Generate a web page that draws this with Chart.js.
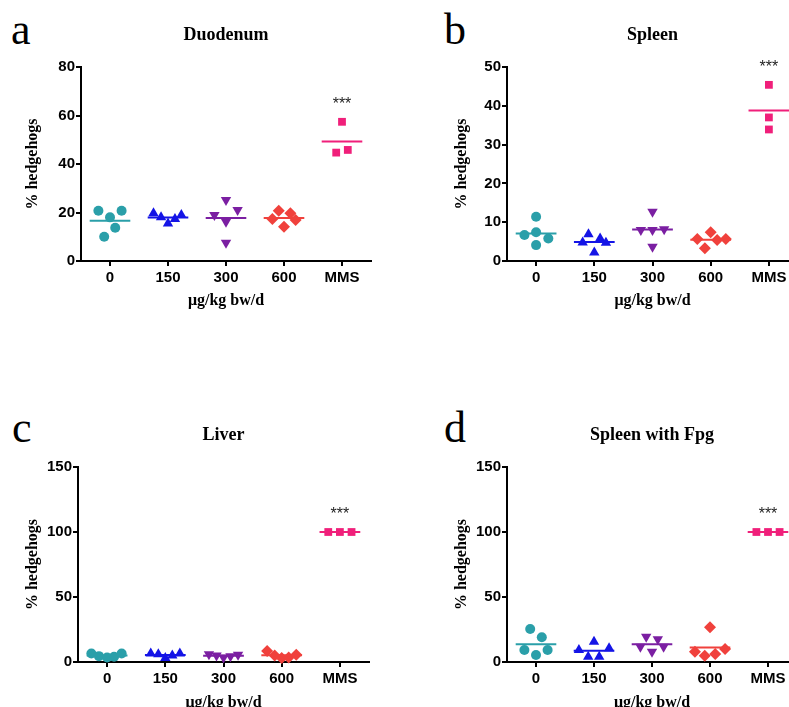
<!DOCTYPE html>
<html>
<head>
<meta charset="utf-8">
<title>Hedgehogs</title>
<script src="https://cdn.jsdelivr.net/npm/chart.js"></script>
<style>
  html, body { margin: 0; padding: 0; background: #fff; }
  body { position: relative; width: 789px; height: 707px; overflow: hidden; }
  canvas { position: absolute; }
  .letter { position: absolute; font-family: "Liberation Serif", serif; font-size: 44px; line-height: 44px; color: #000; }
</style>
</head>
<body>
<div class="letter" style="left:11px; top:8px;">a</div>
<div class="letter" style="left:444px; top:8px;">b</div>
<div class="letter" style="left:12px; top:406px;">c</div>
<div class="letter" style="left:444px; top:406px;">d</div>

<canvas id="duodenum" width="395" height="320" style="left:0; top:0;"></canvas>
<canvas id="spleen" width="420" height="320" style="left:400px; top:0;"></canvas>
<canvas id="liver" width="395" height="320" style="left:0; top:400px;"></canvas>
<canvas id="fpg" width="420" height="320" style="left:400px; top:400px;"></canvas>

<script>
  const categories = ['0', '150', '300', '600', 'MMS'];
  const colors = ['#2a9fa9', '#1414e6', '#7b1fa2', '#f0413c', '#f01f7a'];
  const pointStyles = ['circle', 'triangle', 'triangle', 'rectRot', 'rect'];
  const pointRotations = [0, 0, 180, 0, 0];
  const pointRadii = [5, 6, 6, 6, 5.5];

  // % hedgehogs per animal, one list per dose group; offsets = horizontal spread of the dots
  const duodenumValues = [[20.7, 10.0, 18.0, 13.7, 20.7], [19.7, 18.0, 15.5, 17.3, 19.0], [19.0, 25.2, 16.2, 21.0, 7.5], [17.3, 20.7, 14.1, 19.7, 16.9], [44.7, 57.4, 45.8]];
  const duodenumOffsets = [[-0.2, -0.1, 0, 0.09, 0.2], [-0.25, -0.12, 0, 0.12, 0.23], [-0.2, 0, 0, 0.2, 0], [-0.2, -0.09, 0, 0.11, 0.2], [-0.1, 0, 0.1]];
  const duodenumTicks = [0, 20, 40, 60, 80];

  const spleenValues = [[6.7, 11.4, 7.4, 4.1, 5.8], [4.8, 6.9, 2.2, 5.8, 4.7], [8.0, 12.7, 8.0, 3.7, 8.2], [5.7, 3.3, 7.4, 5.4, 5.7], [45.4, 37.0, 33.9]];
  const spleenOffsets = [[-0.2, 0, 0, 0, 0.21], [-0.2, -0.1, 0, 0.1, 0.2], [-0.2, 0, 0, 0, 0.2], [-0.23, -0.1, 0, 0.11, 0.26], [0, 0, 0]];
  const spleenTicks = [0, 10, 20, 30, 40, 50];

  const liverValues = [[6.5, 4.5, 3.5, 4.0, 6.5], [6.5, 6.0, 3.0, 5.0, 6.5], [6.0, 5.0, 3.5, 4.5, 5.5], [8.5, 5.0, 3.0, 3.5, 5.5], [100, 100, 100]];
  const liverOffsets = [[-0.27, -0.14, 0, 0.12, 0.25], [-0.25, -0.12, 0, 0.12, 0.25], [-0.25, -0.12, 0, 0.12, 0.25], [-0.25, -0.12, 0, 0.12, 0.25], [-0.2, 0, 0.2]];
  const liverTicks = [0, 50, 100, 150];

  const fpgValues = [[9.2, 25.4, 5.4, 19.0, 9.2], [9.2, 4.1, 15.6, 4.1, 10.5], [11.8, 19.5, 7.9, 17.5, 11.8], [7.9, 4.9, 26.7, 6.2, 10.0], [100, 100, 100]];
  const fpgOffsets = [[-0.2, -0.1, 0, 0.1, 0.2], [-0.26, -0.1, 0, 0.09, 0.26], [-0.2, -0.1, 0, 0.1, 0.2], [-0.26, -0.09, 0, 0.09, 0.26], [-0.2, 0, 0.2]];
  const fpgTicks = [0, 50, 100, 150];

  const tickFont = { family: 'Liberation Sans', size: 15, weight: 'bold' };
  const titleFont = { family: 'Liberation Serif', size: 16, weight: 'bold' };

  // panel title above the plot and the *** over the MMS group
  const panelText = {
    id: 'panelText',
    afterDraw(chart, args, opts) {
      const { ctx, chartArea, scales } = chart;
      ctx.save();
      ctx.textAlign = 'center';
      ctx.textBaseline = 'middle';
      ctx.fillStyle = '#000';
      ctx.font = 'bold 18px "Liberation Serif"';
      ctx.fillText(opts.title, (chartArea.left + chartArea.right) / 2, chartArea.top - 32);
      const top = scales.y.getPixelForValue(Math.max(...opts.mms));
      ctx.font = '16px "Liberation Sans"';
      ctx.fillStyle = '#222';
      ctx.fillText('***', scales.x.getPixelForValue(4), top - 17);
      ctx.restore();
    }
  };

  function drawPanel(id, title, values, offsets, yTicks, box) {
    const datasets = [];
    values.forEach((vals, g) => {
      const mean = vals.reduce((a, b) => a + b, 0) / vals.length;
      datasets.push({
        data: [{ x: g - 0.35, y: mean }, { x: g + 0.35, y: mean }],
        showLine: true, borderColor: colors[g], borderWidth: 2, pointRadius: 0, clip: false
      });
    });
    values.forEach((vals, g) => {
      datasets.push({
        data: vals.map((v, i) => ({ x: g + offsets[g][i], y: v })),
        pointStyle: pointStyles[g], rotation: pointRotations[g], pointRadius: pointRadii[g],
        backgroundColor: colors[g], borderColor: colors[g], borderWidth: 0, clip: false
      });
    });

    new Chart(document.getElementById(id), {
      type: 'scatter',
      data: { datasets: datasets },
      plugins: [panelText],
      options: {
        responsive: false,
        animation: false,
        layout: { padding: { top: 67, right: box.padRight, bottom: 0, left: 0 } },
        plugins: {
          legend: { display: false },
          tooltip: { enabled: false },
          panelText: { title: title, mms: values[4] }
        },
        scales: {
          x: {
            type: 'linear', min: -0.5, max: 4.5,
            afterBuildTicks: s => { s.ticks = categories.map((c, i) => ({ value: i })); },
            afterFit: s => { s.height = box.xHeight; },
            ticks: { callback: v => categories[v], font: tickFont, color: '#000', padding: 3, autoSkip: false, maxRotation: 0 },
            grid: { drawOnChartArea: false, drawTicks: true, tickLength: 5, color: '#000', lineWidth: 2 },
            border: { color: '#000', width: 2 },
            title: { display: true, text: 'μg/kg bw/d', font: titleFont, color: '#000', padding: { top: 0, bottom: box.xTitlePad } }
          },
          y: {
            min: 0, max: yTicks[yTicks.length - 1],
            afterBuildTicks: s => { s.ticks = yTicks.map(v => ({ value: v })); },
            afterFit: s => { s.width = box.yWidth; },
            ticks: { font: tickFont, color: '#000', padding: 1 },
            grid: { drawOnChartArea: false, drawTicks: true, tickLength: 5, color: '#000', lineWidth: 2 },
            border: { color: '#000', width: 2 },
            title: { display: true, text: '% hedgehogs', font: titleFont, color: '#000', padding: { top: box.yTitlePad, bottom: 0 } }
          }
        }
      }
    });
  }

  drawPanel('duodenum', 'Duodenum', duodenumValues, duodenumOffsets, duodenumTicks,
    { yWidth: 81, padRight: 24, xHeight: 59, xTitlePad: 10, yTitlePad: 23 });
  drawPanel('spleen', 'Spleen', spleenValues, spleenOffsets, spleenTicks,
    { yWidth: 107, padRight: 22, xHeight: 59, xTitlePad: 10, yTitlePad: 52 });
  drawPanel('liver', 'Liver', liverValues, liverOffsets, liverTicks,
    { yWidth: 78, padRight: 26, xHeight: 58, xTitlePad: 8, yTitlePad: 23 });
  drawPanel('fpg', 'Spleen with Fpg', fpgValues, fpgOffsets, fpgTicks,
    { yWidth: 107, padRight: 23, xHeight: 58, xTitlePad: 8, yTitlePad: 52 });
</script>
</body>
</html>
